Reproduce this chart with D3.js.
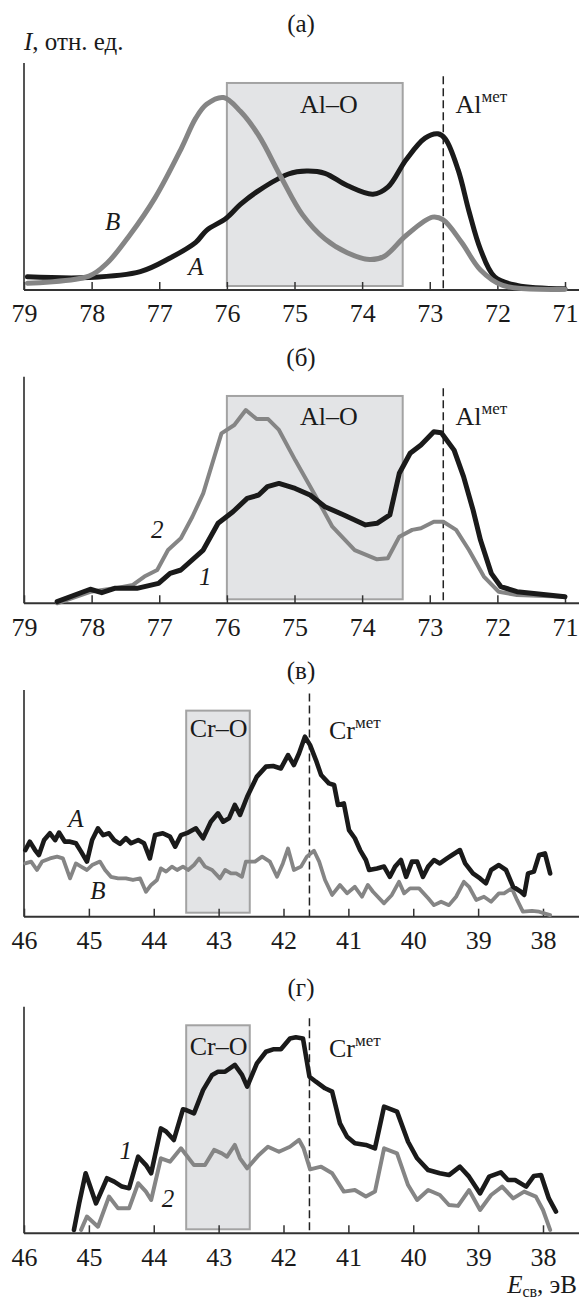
<!DOCTYPE html>
<html>
<head>
<meta charset="utf-8">
<script src="https://cdn.jsdelivr.net/npm/d3@7"></script>
<style>
  body { margin: 0; background: #fff; }
  svg { display: block; }
  text { font-family: "Liberation Serif", "Times New Roman", serif; fill: #1a1a1a; }
</style>
</head>
<body>
<svg id="chart" width="579" height="1301"></svg>
<script>
// Подписи делений оси энергий связи
const ticksAl = [79, 78, 77, 76, 75, 74, 73, 72, 71];
const ticksCr = [46, 45, 44, 43, 42, 41, 40, 39, 38];

// (а) Al 2p: [E, I]
const alA_A = [[78.95,5.8],[78.04,5.5],[77.28,8.1],[76.84,14.1],[76.46,21.0],[76.30,26.3],[76.01,31.6],
  [75.80,37.7],[75.53,43.8],[75.09,51.1],[74.82,52.4],[74.55,51.4],[74.22,46.0],[73.84,42.2],[73.62,45.3],
  [73.35,57.4],[73.07,66.9],[72.88,68.8],[72.77,66.6],[72.58,52.9],[72.42,34.7],[72.25,17.9],[72.04,5.8],
  [71.71,2.0],[71.0,0.5]];
const alA_B = [[78.95,3.0],[78.04,6.1],[77.77,11.9],[77.44,24.0],[77.06,40.7],[76.68,62.0],[76.46,75.7],
  [76.30,81.8],[76.05,84.8],[75.80,78.7],[75.53,68.1],[75.20,49.8],[74.88,33.1],[74.55,22.5],[74.22,16.4],
  [73.89,13.4],[73.67,14.9],[73.35,24.0],[72.96,32.1],[72.80,30.9],[72.53,21.0],[72.25,8.8],[71.92,2.0],
  [71.0,0.3]];

// (б) Al 2p: кривые 1 и 2
const alB_1 = [[78.51,0.7],[78.02,6.2],[77.85,4.7],[77.66,6.6],[77.33,6.6],[77.01,8.8],[76.84,13.2],
  [76.68,14.7],[76.35,23.5],[76.13,35.3],[75.91,40.4],[75.70,46.3],[75.53,47.8],[75.40,51.5],[75.23,52.9],
  [74.99,50.7],[74.77,47.8],[74.55,42.6],[74.27,39.0],[73.95,34.6],[73.78,35.3],[73.59,39.0],[73.45,57.4],
  [73.29,66.2],[73.13,69.9],[72.94,75.7],[72.83,75.3],[72.64,67.6],[72.50,55.9],[72.36,41.2],[72.25,27.9],
  [72.09,13.2],[71.95,7.4],[71.71,5.1],[71.0,2.9]];
const alB_2 = [[78.51,0],[78.02,5.1],[77.66,6.6],[77.39,8.1],[77.22,11.8],[77.03,14.7],[76.87,23.5],
  [76.68,28.7],[76.51,38.2],[76.35,48.5],[76.08,75.0],[75.89,78.7],[75.72,85.3],[75.56,81.3],[75.39,81.3],
  [75.23,76.5],[74.99,63.2],[74.71,48.5],[74.44,33.8],[74.11,23.5],[73.78,19.4],[73.62,19.9],[73.45,29.4],
  [73.26,32.4],[73.13,33.1],[72.94,36.0],[72.80,36.0],[72.61,32.4],[72.42,23.5],[72.20,11.8],[71.98,5.1],
  [71.71,3.7],[71.0,2.9]];

// (в) Cr 3p: кривые A и B
const crV_A = [[45.98,29.4],[45.91,33.1],[45.83,29.4],[45.77,27.2],[45.69,33.8],[45.60,36.8],[45.52,33.8],
  [45.46,37.1],[45.37,33.1],[45.29,33.1],[45.20,32.4],[45.12,28.7],[45.03,24.3],[44.95,33.8],[44.86,39.0],
  [44.78,36.0],[44.69,36.8],[44.61,33.8],[44.52,32.1],[44.43,34.6],[44.35,32.4],[44.24,33.8],[44.15,32.4],
  [44.06,25.7],[43.98,36.0],[43.86,36.8],[43.75,35.3],[43.67,30.9],[43.58,36.0],[43.47,37.1],[43.35,39.0],
  [43.24,34.6],[43.12,41.9],[43.01,45.6],[42.93,41.9],[42.84,43.4],[42.75,49.3],[42.67,44.9],[42.56,52.9],
  [42.41,61.8],[42.27,66.2],[42.16,66.5],[42.04,65.4],[41.93,71.3],[41.84,66.9],[41.76,72.1],[41.67,79.4],
  [41.59,75.7],[41.50,69.1],[41.42,62.5],[41.30,58.8],[41.22,58.1],[41.16,49.3],[41.07,50.0],[40.99,38.2],
  [40.90,34.6],[40.82,29.4],[40.73,25.0],[40.68,20.6],[40.56,21.3],[40.45,22.1],[40.36,17.6],[40.28,22.1],
  [40.19,25.0],[40.11,17.6],[40.02,24.3],[39.94,24.3],[39.85,17.6],[39.77,22.1],[39.68,25.0],[39.59,23.5],
  [39.48,25.7],[39.40,27.2],[39.28,29.4],[39.20,23.5],[39.08,19.1],[38.97,16.9],[38.88,14.7],[38.80,20.6],
  [38.68,22.8],[38.57,20.6],[38.46,13.2],[38.34,11.0],[38.29,9.6],[38.23,19.1],[38.14,19.9],[38.06,27.2],
  [37.97,27.9],[37.89,19.1]];
const crV_B = [[45.98,23.5],[45.89,24.3],[45.80,20.6],[45.72,24.3],[45.60,25.7],[45.49,26.5],[45.40,25.7],
  [45.29,16.9],[45.20,23.5],[45.12,22.1],[45.03,20.6],[44.95,22.8],[44.83,24.3],[44.75,20.6],[44.66,17.6],
  [44.55,16.9],[44.43,16.9],[44.32,16.2],[44.21,16.9],[44.12,11.0],[44.04,14.0],[43.95,16.2],[43.89,21.3],
  [43.81,19.9],[43.72,22.1],[43.64,20.6],[43.55,22.1],[43.47,20.6],[43.38,22.8],[43.30,25.7],[43.21,22.1],
  [43.10,20.6],[42.98,16.9],[42.90,20.6],[42.81,19.1],[42.73,19.1],[42.64,17.6],[42.58,24.3],[42.44,24.3],
  [42.33,26.5],[42.21,24.3],[42.10,17.6],[42.01,23.5],[41.93,30.1],[41.84,20.6],[41.73,22.1],[41.64,26.5],
  [41.53,29.1],[41.45,24.3],[41.36,16.2],[41.25,9.6],[41.13,14.0],[41.02,10.3],[40.90,13.2],[40.79,8.8],
  [40.70,14.0],[40.62,11.0],[40.45,5.9],[40.33,9.6],[40.22,15.4],[40.14,10.3],[40.05,12.5],[39.91,12.5],
  [39.77,8.1],[39.68,5.1],[39.57,6.6],[39.45,5.1],[39.34,8.8],[39.22,15.4],[39.14,13.2],[39.03,7.4],
  [38.91,8.8],[38.80,6.6],[38.68,10.3],[38.60,10.3],[38.48,12.5],[38.40,7.4],[38.31,2.2],[38.17,2.6],
  [38.06,2.2],[37.89,0.7]];

// (г) Cr 3p: кривые 1 и 2
const crG_1 = [[45.23,1.5],[45.15,13.2],[45.05,26.5],[44.89,13.2],[44.72,24.3],[44.61,22.8],[44.49,20.6],
  [44.38,19.9],[44.24,33.8],[44.12,30.1],[44.04,26.5],[43.89,46.3],[43.81,44.9],[43.69,41.2],[43.55,54.7],
  [43.50,54.4],[43.38,52.9],[43.24,63.2],[43.10,69.9],[43.01,71.3],[42.90,71.3],[42.75,74.3],[42.64,69.9],
  [42.56,64.7],[42.41,75.0],[42.27,80.1],[42.16,81.2],[42.04,81.2],[41.90,86.0],[41.81,86.5],[41.70,86.0],
  [41.60,69.1],[41.50,66.9],[41.36,64.0],[41.25,62.5],[41.13,48.5],[41.02,42.6],[40.90,39.7],[40.73,39.0],
  [40.59,37.5],[40.45,55.9],[40.25,53.7],[40.08,40.4],[39.94,33.1],[39.77,27.9],[39.59,26.5],[39.45,25.7],
  [39.28,29.4],[39.14,25.0],[38.97,17.6],[38.83,25.0],[38.65,26.9],[38.54,23.5],[38.43,23.5],[38.26,20.6],
  [38.14,25.3],[38.03,25.7],[37.91,15.4],[37.80,9.6]];
const crG_2 = [[45.12,1.5],[45.03,7.4],[44.86,2.9],[44.69,16.2],[44.55,11.0],[44.38,11.0],[44.24,22.1],
  [44.12,18.4],[44.04,14.7],[43.89,33.1],[43.75,31.6],[43.58,37.5],[43.50,34.6],[43.38,30.1],[43.21,30.1],
  [43.07,36.8],[42.95,35.3],[42.87,33.8],[42.75,39.0],[42.67,33.1],[42.56,28.7],[42.38,34.6],[42.24,38.2],
  [42.07,36.0],[41.90,38.2],[41.76,41.2],[41.69,37.5],[41.59,28.2],[41.42,29.4],[41.25,26.5],[41.07,18.4],
  [40.90,19.1],[40.73,16.2],[40.59,18.4],[40.45,37.5],[40.25,35.3],[40.08,21.3],[39.94,14.7],[39.77,19.1],
  [39.59,16.9],[39.45,12.5],[39.31,12.1],[39.14,19.1],[38.97,10.3],[38.80,16.9],[38.63,20.6],[38.46,15.4],
  [38.29,18.4],[38.11,16.2],[38.00,10.3],[37.89,1.5]];

const BLACK = '#1a1a1a';
const GRAY = '#858585';

function drawPanel(svg, p) {
    const g = svg.append('g');
    const x = d3.scaleLinear().domain(p.domain).range([24, p.right]);
    const y = d3.scaleLinear().domain([0, 100]).range([p.base, p.top]);

    // заголовок панели
    g.append('text').attr('x', 301).attr('y', p.titleY)
        .attr('text-anchor', 'middle').style('font-size', '25px').text(p.title);

    // серый прямоугольник области окисла
    g.append('rect')
        .attr('x', x(p.box[0])).attr('y', y(p.box[2]))
        .attr('width', x(p.box[1]) - x(p.box[0]))
        .attr('height', y(0) - 4 - y(p.box[2]))
        .attr('fill', '#e3e4e6').attr('stroke', '#a3a3a3').attr('stroke-width', 2);

    // штриховая линия металлического состояния
    g.append('line')
        .attr('x1', x(p.dash[0])).attr('x2', x(p.dash[0]))
        .attr('y1', y(p.dash[1])).attr('y2', y(0))
        .attr('stroke', '#222').attr('stroke-width', 1.5).attr('stroke-dasharray', '8,4');

    // оси
    g.append('line').attr('x1', x(p.domain[0])).attr('x2', x(p.domain[0]))
        .attr('y1', y(100)).attr('y2', y(0)).attr('stroke', '#555').attr('stroke-width', 2);
    g.append('line').attr('x1', x(p.domain[0])).attr('x2', 579)
        .attr('y1', y(0)).attr('y2', y(0)).attr('stroke', '#333').attr('stroke-width', 2);

    const axis = d3.axisBottom(x).tickValues(p.ticks).tickFormat(d3.format('d'))
        .tickSizeInner(-8).tickSizeOuter(0).tickPadding(14);
    const ax = g.append('g').attr('transform', `translate(0,${y(0)})`).call(axis);
    ax.select('.domain').remove();
    ax.selectAll('line').attr('stroke', '#333').attr('stroke-width', 1.5);
    ax.selectAll('text').attr('fill', '#1a1a1a')
        .style('font-family', '"Liberation Serif", "Times New Roman", serif')
        .style('font-size', '26px');

    // подписи областей
    g.append('text').attr('x', x(p.boxLabel.e)).attr('y', y(p.boxLabel.v))
        .attr('text-anchor', 'middle').style('font-size', '26px').text(p.boxLabel.text);
    const met = g.append('text').attr('x', x(p.metLabel.e)).attr('y', y(p.metLabel.v))
        .style('font-size', '26px');
    met.append('tspan').text(p.metLabel.el);
    met.append('tspan').attr('dy', -11).style('font-size', '17px').text('мет');

    // кривые
    const line = d3.line().x(d => x(d[0])).y(d => y(d[1])).curve(p.curve);
    p.curves.forEach(c => {
        g.append('path').datum(c.data)
            .attr('d', line)
            .attr('fill', 'none')
            .attr('stroke', c.color)
            .attr('stroke-width', c.width)
            .attr('stroke-linejoin', 'round')
            .attr('stroke-linecap', 'round');
    });

    // подписи кривых
    p.labels.forEach(l => {
        g.append('text').attr('x', x(l.e)).attr('y', y(l.v))
            .attr('text-anchor', 'middle')
            .style('font-size', '25px').style('font-style', 'italic')
            .text(l.t);
    });
}

const svg = d3.select('#chart');

const panels = [
    { title: '(а)', titleY: 32, top: 63, base: 290, domain: [79, 71], right: 565, ticks: ticksAl,
      curve: d3.curveCatmullRom,
      curves: [{ data: alA_A, color: BLACK, width: 5 }, { data: alA_B, color: GRAY, width: 5 }],
      box: [76, 73.4, 91.2], dash: [72.8, 94.2],
      boxLabel: { text: 'Al–O', e: 74.49, v: 78 }, metLabel: { el: 'Al', e: 72.62, v: 78 },
      labels: [{ t: 'B', e: 77.69, v: 26.3 }, { t: 'A', e: 76.46, v: 6.5 }] },
    { title: '(б)', titleY: 366, top: 376.7, base: 603.3, domain: [79, 71], right: 565, ticks: ticksAl,
      curve: d3.curveLinear,
      curves: [{ data: alB_2, color: GRAY, width: 4 }, { data: alB_1, color: BLACK, width: 5 }],
      box: [76, 73.4, 91.5], dash: [72.8, 94.9],
      boxLabel: { text: 'Al–O', e: 74.49, v: 78.7 }, metLabel: { el: 'Al', e: 72.62, v: 78.7 },
      labels: [{ t: '2', e: 77.03, v: 28.8 }, { t: '1', e: 76.32, v: 8.1 }] },
    { title: '(в)', titleY: 679, top: 690, base: 916.7, domain: [46, 38], right: 543, ticks: ticksCr,
      curve: d3.curveLinear,
      curves: [{ data: crV_B, color: GRAY, width: 3.8 }, { data: crV_A, color: BLACK, width: 4.6 }],
      box: [43.5, 42.52, 90.9], dash: [41.6, 98.5],
      boxLabel: { text: 'Cr–O', e: 43.0, v: 79.3 }, metLabel: { el: 'Cr', e: 41.3, v: 78.4 },
      labels: [{ t: 'A', e: 45.2, v: 39.7 }, { t: 'B', e: 44.86, v: 7.7 }] },
    { title: '(г)', titleY: 996, top: 1006.7, base: 1233.3, domain: [46, 38], right: 543, ticks: ticksCr,
      curve: d3.curveLinear,
      curves: [{ data: crG_2, color: GRAY, width: 4 }, { data: crG_1, color: BLACK, width: 4.6 }],
      box: [43.5, 42.52, 91.8], dash: [41.6, 94.9],
      boxLabel: { text: 'Cr–O', e: 43.0, v: 78.7 }, metLabel: { el: 'Cr', e: 41.3, v: 77.9 },
      labels: [{ t: '1', e: 44.43, v: 32.7 }, { t: '2', e: 43.78, v: 11.7 }] }
];

panels.forEach(p => drawPanel(svg, p));

// подпись оси интенсивности
const yl = svg.append('text').attr('x', 24).attr('y', 50).style('font-size', '25px');
yl.append('tspan').style('font-style', 'italic').text('I');
yl.append('tspan').text(', отн. ед.');

// подпись оси энергии связи
const xl = svg.append('text').attr('x', 577).attr('y', 1293).attr('text-anchor', 'end').style('font-size', '25px');
xl.append('tspan').style('font-style', 'italic').text('E');
xl.append('tspan').attr('dy', 4).style('font-size', '16px').text('св');
xl.append('tspan').attr('dy', -4).text(', эВ');
</script>
</body>
</html>
